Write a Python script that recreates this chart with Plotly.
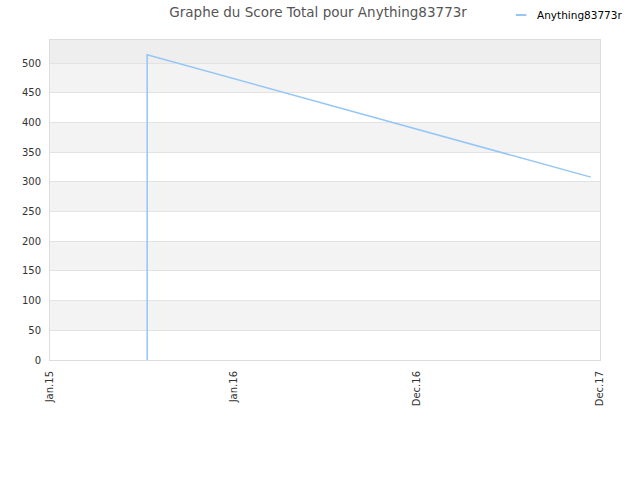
import plotly.graph_objects as go

# data
tick_labels = ['Jan.15', 'Jan.16', 'Dec.16', 'Dec.17']
tick_pos = [0, 1, 2, 3]
player = 'Anything83773r'
x_pos = [0.53, 0.53, 2.95]
scores = [0, 514, 308]

line_color = '#95c6f5'

fig = go.Figure()
fig.add_trace(go.Scatter(x=x_pos, y=scores, mode='lines', name=player,
                         line=dict(color=line_color, width=1.5), showlegend=False))

# alternating grey bands like the original chart
for lo in range(50, 500, 100):
    fig.add_shape(type='rect', xref='paper', yref='y', x0=0, x1=1, y0=lo, y1=lo + 50,
                  fillcolor='#f3f3f3', line_width=0, layer='below')
fig.add_shape(type='rect', xref='paper', yref='y', x0=0, x1=1, y0=500, y1=539,
              fillcolor='#eeeeee', line_width=0, layer='below')

# small legend at the top right (short line + name), as in the original
fig.add_shape(type='line', xref='paper', yref='paper', x0=0.847, x1=0.866,
              y0=1.078, y1=1.078, line=dict(color=line_color, width=2))
fig.add_annotation(text=player, xref='paper', yref='paper', x=0.882, y=1.078,
                   xanchor='left', yanchor='middle', showarrow=False,
                   font=dict(size=10.5, color='#000000'))

fig.update_layout(
    width=640, height=480,
    paper_bgcolor='white', plot_bgcolor='white',
    font=dict(family='DejaVu Sans', size=10, color='#333333'),
    title=dict(text='Graphe du Score Total pour Anything83773r', x=0.497, y=0.974,
               xanchor='center', yanchor='middle',
               font=dict(size=13.5, color='#555555')),
    margin=dict(l=50, r=40, t=40, b=120, autoexpand=False),
)
fig.update_xaxes(range=[0, 3], tickvals=tick_pos, ticktext=tick_labels, tickangle=-90,
                 showgrid=False, zeroline=False, showline=True, linecolor='#dddddd',
                 mirror=True, ticks='', automargin=False, ticklabelstandoff=6,
                 tickfont=dict(size=10, color='#333333'))
fig.update_yaxes(range=[0, 539], dtick=50, showgrid=True, gridcolor='#e3e3e3',
                 zeroline=False, showline=True, linecolor='#dddddd', mirror=True,
                 ticks='', automargin=False, ticklabelstandoff=6,
                 tickfont=dict(size=10, color='#333333'))

# drop the default page margin so the figure sits at the window's top-left corner
fig.write_html('out.html', config={'displayModeBar': False},
               post_script="document.body.style.margin='0';")
